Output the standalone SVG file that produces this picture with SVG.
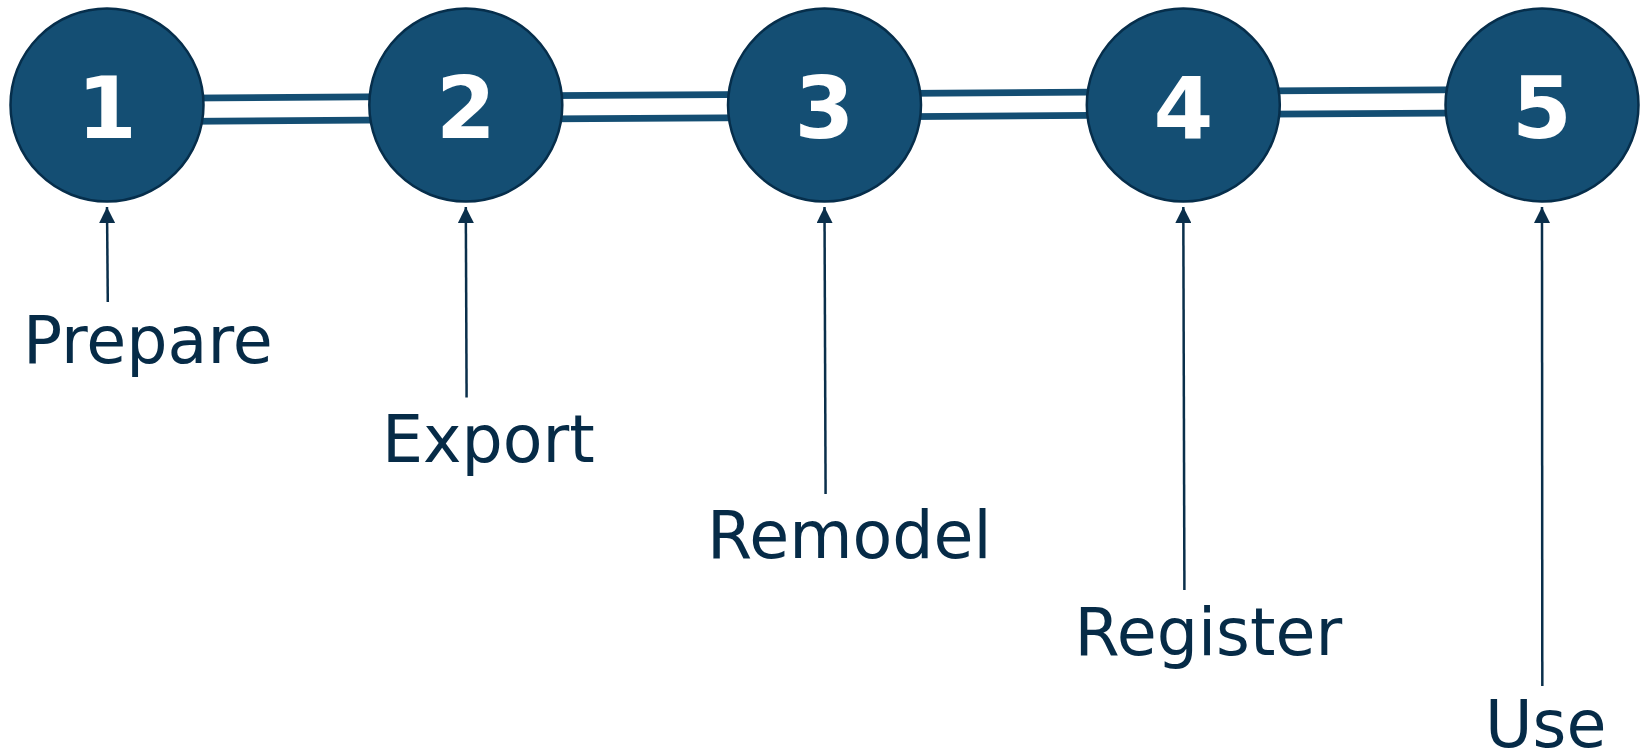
<svg xmlns="http://www.w3.org/2000/svg" width="1641" height="752" viewBox="0 0 1641 752">
  <style>
    .step circle { fill: #144e73; stroke: #062e4b; stroke-width: 2.5; }
    .num { font-family: "DejaVu Sans", Verdana, sans-serif; font-weight: bold; font-size: 86px; fill: #ffffff; text-anchor: middle; }
    .label { font-family: "DejaVu Sans", Verdana, sans-serif; font-size: 65px; fill: #062b47; }
    .rail-outer { stroke: #144e73; stroke-width: 30; fill: none; }
    .rail-inner { stroke: #ffffff; stroke-width: 16.5; fill: none; }
    .pointer { stroke: #0a2f4b; stroke-width: 2.5; fill: none; marker-end: url(#tip); }
  </style>
  <defs>
    <marker id="tip" viewBox="0 0 16 16" refX="16" refY="8" markerWidth="16" markerHeight="16" markerUnits="userSpaceOnUse" orient="auto">
      <path d="M0,0 L16,8 L0,16 Z" fill="#0a2f4b"/>
    </marker>
  </defs>

  <!-- double rail joining the steps -->
  <g id="connectors">
    <line class="rail-outer" x1="107" y1="110.2" x2="1542" y2="100.8"/>
    <line class="rail-inner" x1="107" y1="110.2" x2="1542" y2="100.8"/>
    <line class="pointer" x1="107.8" y1="302" x2="107" y2="207"/>
    <line class="pointer" x1="466.6" y1="397.5" x2="465.8" y2="207"/>
    <line class="pointer" x1="825.6" y1="494" x2="824.5" y2="207"/>
    <line class="pointer" x1="1184.4" y1="590" x2="1183.3" y2="207"/>
    <line class="pointer" x1="1542.3" y1="686" x2="1542" y2="207"/>
  </g>

  <g id="step1" class="step">
    <circle cx="107" cy="105" r="96.5"/>
    <text class="num" x="107" y="138">1</text>
  </g>
  <g id="step2" class="step">
    <circle cx="465.8" cy="105" r="96.5"/>
    <text class="num" x="465.8" y="138">2</text>
  </g>
  <g id="step3" class="step">
    <circle cx="824.5" cy="105" r="96.5"/>
    <text class="num" x="824.5" y="138">3</text>
  </g>
  <g id="step4" class="step">
    <circle cx="1183.3" cy="105" r="96.5"/>
    <text class="num" x="1183.3" y="138">4</text>
  </g>
  <g id="step5" class="step">
    <circle cx="1542" cy="105" r="96.5"/>
    <text class="num" x="1542" y="138">5</text>
  </g>

  <g id="labels">
    <text class="label" x="23" y="362.5">Prepare</text>
    <text class="label" x="382" y="462">Export</text>
    <text class="label" x="707" y="558">Remodel</text>
    <text class="label" x="1074.5" y="655">Register</text>
    <text class="label" x="1485" y="746.5">Use</text>
  </g>
</svg>
